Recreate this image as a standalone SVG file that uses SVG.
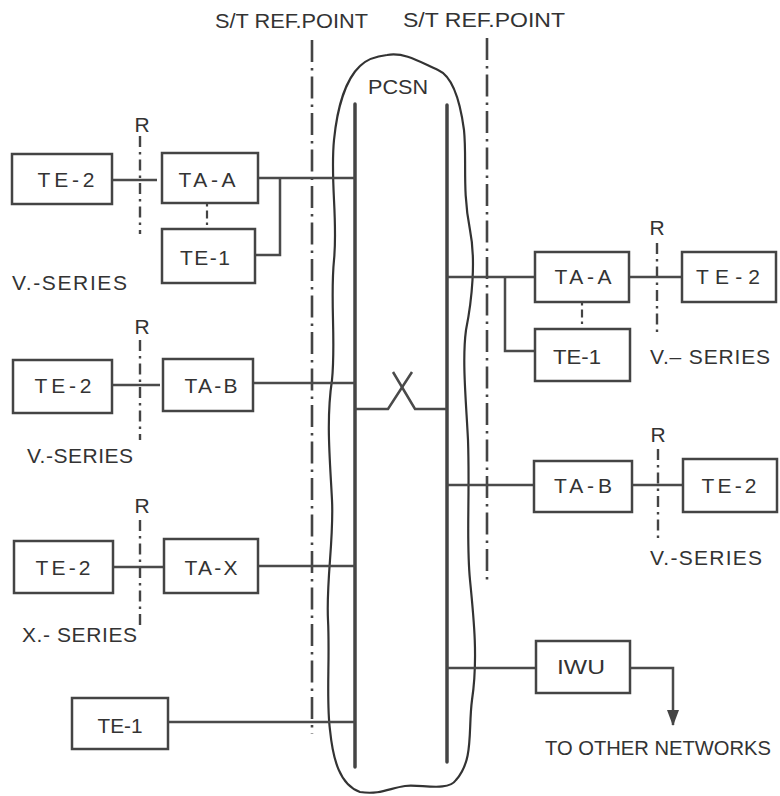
<svg xmlns="http://www.w3.org/2000/svg" width="780" height="796" viewBox="0 0 780 796">
<style>
.box{fill:none;stroke:#444;stroke-width:2.5}
.ln{fill:none;stroke:#4a4a4a;stroke-width:2.5}
.bus{fill:none;stroke:#444;stroke-width:3.5;stroke-linecap:round}
.cloud{fill:none;stroke:#333;stroke-width:2.2}
.st{fill:none;stroke:#444;stroke-width:2.6;stroke-dasharray:22 6 2.5 6}
.r{fill:none;stroke:#444;stroke-width:2.4;stroke-dasharray:11 5 2.5 5}
.dt{fill:none;stroke:#444;stroke-width:2.2;stroke-dasharray:2.5 4 8 4}
text{font-family:"Liberation Sans",Arial,sans-serif;font-size:21px;fill:#333}
.c{text-anchor:middle}
</style>
<defs>
<marker id="ah" markerWidth="16" markerHeight="14" refX="15" refY="7" orient="auto" markerUnits="userSpaceOnUse" viewBox="0 0 16 14">
<path d="M0,1 L16,7 L0,13 Z" fill="#444"/>
</marker>
</defs>

<g id="pcsn">
<path class="cloud" d="M387,55 C405,52 420,62 438,70 C452,76 460,100 464,130 C467,160 462,190 470,230 C476,260 472,300 466,330 C462,360 466,400 468,440 C470,500 466,540 470,580 C474,620 478,660 472,700 C468,730 474,760 456,780 C448,792 420,784 405,786 C390,788 380,795 360,792 C340,785 333,760 330,730 C326,700 330,660 328,620 C326,580 334,540 332,500 C330,460 326,420 332,380 C336,340 330,300 334,260 C338,220 330,180 334,140 C337,110 345,80 360,66 C368,58 378,56 387,55 Z"/>
<text x="398" y="94" class="c" textLength="60" lengthAdjust="spacingAndGlyphs">PCSN</text>
<line class="bus" x1="355" y1="104" x2="355" y2="767"/>
<line class="bus" x1="447" y1="105" x2="447" y2="762"/>
</g>

<g id="refpoints">
<line class="st" x1="312" y1="40" x2="312" y2="734"/>
<line class="st" x1="487" y1="38" x2="487" y2="582"/>
<text x="215" y="28" textLength="153" lengthAdjust="spacingAndGlyphs">S/T REF.POINT</text>
<text x="403" y="27" textLength="162" lengthAdjust="spacingAndGlyphs">S/T REF.POINT</text>
</g>

<g id="r-lines">
<line class="r" x1="140" y1="136" x2="140" y2="234"/>
<text x="142" y="132" class="c">R</text>
<line class="r" x1="140" y1="340" x2="140" y2="440"/>
<text x="142" y="334" class="c">R</text>
<line class="r" x1="140" y1="520" x2="140" y2="628"/>
<text x="142" y="513" class="c">R</text>
<line class="r" x1="657" y1="243" x2="657" y2="334"/>
<text x="657" y="235" class="c">R</text>
<line class="r" x1="658" y1="449" x2="658" y2="539"/>
<text x="658" y="442" class="c">R</text>
</g>

<g id="connectors">
<line class="ln" x1="112" y1="180" x2="157" y2="180"/>
<polyline class="ln" points="258,178 355,178"/>
<polyline class="ln" points="280,178 280,255 255,255"/>
<line class="dt" x1="207" y1="204" x2="207" y2="229"/>
<line class="ln" x1="112" y1="385" x2="160" y2="385"/>
<line class="ln" x1="253" y1="383" x2="355" y2="383"/>
<line class="ln" x1="113" y1="567" x2="164" y2="567"/>
<line class="ln" x1="258" y1="566" x2="355" y2="566"/>
<line class="ln" x1="168" y1="722" x2="355" y2="722"/>
<polyline class="ln" points="355,409 388,409 412,372"/>
<polyline class="ln" points="393,372 415,409 447,409"/>
<line class="ln" x1="447" y1="277" x2="535" y2="277"/>
<polyline class="ln" points="505,277 505,351 535,351"/>
<line class="dt" x1="582" y1="303" x2="582" y2="329"/>
<line class="ln" x1="629" y1="277" x2="682" y2="277"/>
<line class="ln" x1="447" y1="485" x2="534" y2="485"/>
<line class="ln" x1="632" y1="485" x2="683" y2="485"/>
<line class="ln" x1="447" y1="668" x2="536" y2="668"/>
<polyline class="ln" points="630,668 673,668 673,725" marker-end="url(#ah)"/>
</g>

<g id="te2-l1"><rect class="box" x="12" y="154" width="100" height="50"/><text x="66" y="187" class="c" textLength="57" lengthAdjust="spacing">TE-2</text></g>
<g id="taa-l"><rect class="box" x="162" y="153" width="96" height="50"/><text x="207" y="187" class="c" textLength="57" lengthAdjust="spacing">TA-A</text></g>
<g id="te1-l1"><rect class="box" x="162" y="229" width="93" height="54"/><text x="205" y="265" class="c" textLength="50" lengthAdjust="spacing">TE-1</text></g>
<text x="12" y="290" textLength="115" lengthAdjust="spacing">V.-SERIES</text>

<g id="te2-l2"><rect class="box" x="13" y="360" width="99" height="53"/><text x="63" y="393" class="c" textLength="57" lengthAdjust="spacing">TE-2</text></g>
<g id="tab-l"><rect class="box" x="163" y="359" width="90" height="52"/><text x="211" y="393" class="c" textLength="53" lengthAdjust="spacing">TA-B</text></g>
<text x="27" y="463" textLength="106" lengthAdjust="spacing">V.-SERIES</text>

<g id="te2-l3"><rect class="box" x="14" y="541" width="99" height="52"/><text x="63" y="575" class="c" textLength="55" lengthAdjust="spacing">TE-2</text></g>
<g id="tax-l"><rect class="box" x="164" y="539" width="94" height="54"/><text x="211" y="575" class="c" textLength="53" lengthAdjust="spacing">TA-X</text></g>
<text x="22" y="642" textLength="115" lengthAdjust="spacing">X.- SERIES</text>

<g id="te1-l2"><rect class="box" x="72" y="698" width="96" height="51"/><text x="120" y="733" class="c" textLength="45" lengthAdjust="spacingAndGlyphs">TE-1</text></g>

<g id="taa-r"><rect class="box" x="535" y="252" width="94" height="50"/><text x="583" y="284" class="c" textLength="57" lengthAdjust="spacing">TA-A</text></g>
<g id="te2-r1"><rect class="box" x="682" y="252" width="94" height="50"/><text x="728" y="284" class="c" textLength="64" lengthAdjust="spacing">TE-2</text></g>
<g id="te1-r"><rect class="box" x="535" y="329" width="95" height="52"/><text x="577" y="364" class="c" textLength="48" lengthAdjust="spacingAndGlyphs">TE-1</text></g>
<text x="650" y="364" textLength="120" lengthAdjust="spacing">V.– SERIES</text>

<g id="tab-r"><rect class="box" x="534" y="461" width="98" height="51"/><text x="583" y="493" class="c" textLength="58" lengthAdjust="spacing">TA-B</text></g>
<g id="te2-r2"><rect class="box" x="683" y="459" width="94" height="53"/><text x="729" y="493" class="c" textLength="55" lengthAdjust="spacing">TE-2</text></g>
<text x="650" y="565" textLength="112" lengthAdjust="spacing">V.-SERIES</text>

<g id="iwu"><rect class="box" x="536" y="641" width="94" height="52"/><text x="581" y="674" class="c" textLength="48" lengthAdjust="spacingAndGlyphs">IWU</text></g>
<text x="545" y="755" textLength="226" lengthAdjust="spacingAndGlyphs">TO OTHER NETWORKS</text>
</svg>
